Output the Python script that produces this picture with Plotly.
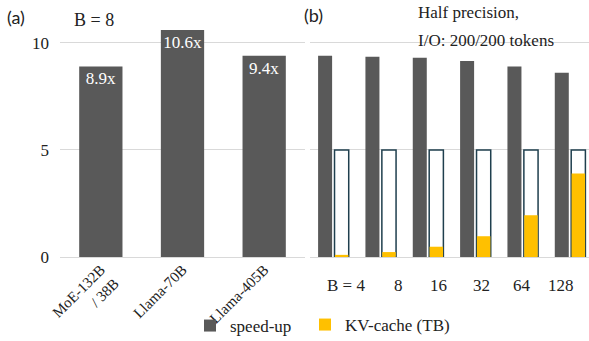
import plotly.graph_objects as go

# ---- data ----
models = ["MoE-132B<br>/ 38B", "Llama-70B", "Llama-405B"]
speedup_a = [8.9, 10.6, 9.4]
speedup_a_text = ["8.9x", "10.6x", "9.4x"]

batch = ["B = 4", "8", "16", "32", "64", "128"]
speedup_b = [9.4, 9.35, 9.3, 9.15, 8.9, 8.6]
kv_capacity = [5, 5, 5, 5, 5, 5]
kv_cache = [0.1, 0.23, 0.48, 0.97, 1.95, 3.9]
# label positions (in category units) for panel (b) tick labels
label_pos_b = [0.27, 1.36, 2.21, 3.13, 3.97, 4.80]

DARK = "#595959"
YELLOW = "#FFC000"
OUTLINE = "#1F3F4E"
GRID = "#D9D9D9"
SERIF = "Liberation Serif, Times New Roman, serif"
SANS = "Lato, sans-serif"

fig = go.Figure()

fig.add_trace(go.Bar(
    x=models, y=speedup_a, xaxis="x", yaxis="y",
    marker=dict(color=DARK, line=dict(width=0)),
    width=0.53,
    text=speedup_a_text, textposition="inside", insidetextanchor="end",
    textfont=dict(family=SERIF, size=17, color="white"),
    constraintext="none", textangle=0,
    name="speed-up", showlegend=True, legendgroup="s", legend="legend",
))

fig.add_trace(go.Bar(
    x=batch, y=speedup_b, xaxis="x2", yaxis="y2",
    marker=dict(color=DARK, line=dict(width=0)),
    width=0.296, offset=-0.329,
    name="speed-up", showlegend=False, legendgroup="s", hoverinfo="y",
))

fig.add_trace(go.Bar(
    x=batch, y=kv_capacity, xaxis="x2", yaxis="y2",
    marker=dict(color="white", line=dict(color=OUTLINE, width=1.5)),
    width=0.30, offset=0.018,
    name="capacity", showlegend=False, hoverinfo="skip",
))

fig.add_trace(go.Bar(
    x=batch, y=kv_cache, xaxis="x2", yaxis="y2",
    marker=dict(color=YELLOW, line=dict(width=0)),
    width=0.285, offset=0.026,
    name="KV-cache (TB)", showlegend=True, legend="legend2",
))

for xv, lab in zip(label_pos_b, batch):
    fig.add_annotation(x=xv, y=1 - 285 / 341, xref="x2", yref="paper", text=lab,
                       showarrow=False, yanchor="middle", xanchor="center",
                       font=dict(family=SERIF, size=17, color="#222222"))

fig.add_annotation(x=5 / 589, y=1 - 17 / 341, xref="paper", yref="paper", text="(a)",
                   showarrow=False, xanchor="left", yanchor="middle",
                   font=dict(family=SANS, size=18, color="#222222"))
fig.add_annotation(x=302 / 589, y=1 - 15 / 341, xref="paper", yref="paper", text="(b)",
                   showarrow=False, xanchor="left", yanchor="middle",
                   font=dict(family=SANS, size=18, color="#222222"))
fig.add_annotation(x=72 / 589, y=1 - 20 / 341, xref="paper", yref="paper", text="B = 8",
                   showarrow=False, xanchor="left", yanchor="middle",
                   font=dict(family=SERIF, size=18, color="#222222"))
fig.add_annotation(x=416 / 589, y=1 - 13 / 341, xref="paper", yref="paper",
                   text="Half precision,", showarrow=False, xanchor="left", yanchor="middle",
                   font=dict(family=SERIF, size=17, color="#222222"))
fig.add_annotation(x=416 / 589, y=1 - 40 / 341, xref="paper", yref="paper",
                   text="I/O: 200/200 tokens", showarrow=False, xanchor="left", yanchor="middle",
                   font=dict(family=SERIF, size=17, color="#222222"))

legend_common = dict(orientation="h", yanchor="middle", xanchor="left",
                     font=dict(family=SERIF, size=17, color="#222222"),
                     bgcolor="rgba(0,0,0,0)", itemsizing="constant")

ydom = [1 - 257 / 341, 1.0]
fig.update_layout(
    width=589, height=341,
    margin=dict(l=0, r=0, t=0, b=0, autoexpand=False),
    paper_bgcolor="white", plot_bgcolor="white",
    barmode="overlay",
    showlegend=True,
    legend=dict(x=190 / 589, y=1 - 326 / 341, **legend_common),
    legend2=dict(x=305 / 589, y=1 - 325 / 341, **legend_common),
    xaxis=dict(domain=[60 / 589, 305 / 589], anchor="y", showgrid=False, showline=False,
               ticks="", tickangle=-45, automargin=False, ticklabelstandoff=0,
               tickfont=dict(family=SERIF, size=15, color="#222222")),
    yaxis=dict(domain=ydom, anchor="x", range=[0, 12], tickvals=[0, 5, 10],
               showgrid=True, gridcolor=GRID, gridwidth=1, zeroline=True,
               zerolinecolor=GRID, zerolinewidth=1, showline=False, ticks="",
               ticklabelstandoff=10, automargin=False,
               tickfont=dict(family=SERIF, size=17, color="#222222")),
    xaxis2=dict(domain=[310 / 589, 1.0], anchor="y2", range=[-0.5, 5.394],
                showgrid=False, showline=False, ticks="", showticklabels=False,
                automargin=False),
    yaxis2=dict(domain=ydom, anchor="x2", range=[0, 12], tickvals=[0, 5, 10],
                showgrid=True, gridcolor=GRID, gridwidth=1, zeroline=True,
                zerolinecolor=GRID, zerolinewidth=1, showline=False, ticks="",
                showticklabels=False, automargin=False),
)

fig.write_html("out.html")
